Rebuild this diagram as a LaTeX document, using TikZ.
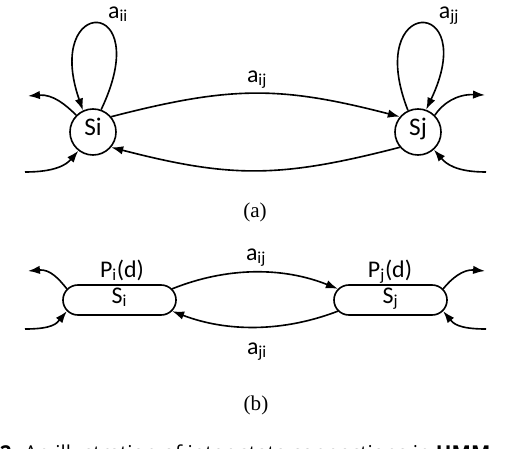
\documentclass[tikz,border=0pt]{standalone}
\usepackage{fontspec}
\setmainfont{Liberation Serif}
\newfontfamily\lblfont{Carlito}
\newfontfamily\capfont{Open Sans}
\usetikzlibrary{arrows.meta,positioning,shapes.misc}

\begin{document}
\begin{tikzpicture}[x=0.025cm, y=-0.025cm, >={Latex[length=8.5pt,width=6pt]}, line width=1.15pt]
      \tikzset{
	  state/.style={circle, draw, inner sep=0pt, minimum size=1.15cm, text height=0.65em, text depth=0.2em, font=\lblfont\fontsize{18}{20}\selectfont},
	  stbox/.style={rounded rectangle, draw, inner sep=0pt, minimum width=2.825cm, minimum height=0.75cm, text height=0.65em, text depth=0.2em, font=\lblfont\fontsize{17}{20}\selectfont},
	  lbl/.style={anchor=base, inner sep=0pt, font=\lblfont\fontsize{17}{20}\selectfont},
	  sublbl/.style={anchor=base, inner sep=0pt, font=\fontsize{15}{17}\selectfont},
      }
      \useasboundingbox (0,0) rectangle (512,448);

      % (a) circle states
      \node (si) at (93,132) [state] {Si};
      \node (sj) at (418,132) [state] {Sj};
      \node (aii) at (118,18) [lbl] {a\textsubscript{ii}};
      \node (ajj) at (449,18) [lbl] {a\textsubscript{jj}};
      \node (aij) at (257,82) [lbl] {a\textsubscript{ij}};
      \coordinate (sio) at (28,96);
      \coordinate (sii) at (25,172);
      \coordinate (sjo) at (485,95);
      \coordinate (sji) at (486,172);

      \draw [->] (si.70) .. controls +(55,-115) and +(-40,-115) .. (si.115);
      \draw [->] (sj.115) .. controls +(-45,-115) and +(55,-115) .. (sj.70);
      \draw [->] (si.40) .. controls +(120,-31) and +(-120,-31) .. (sj.140);
      \draw [->] (sj.220) .. controls +(-120,31) and +(120,31) .. (si.-40);
      \draw [->] (si.135) .. controls +(-10,-10) and +(25,-2) .. (sio);
      \draw [->] (sii) .. controls +(30,0) and +(-12,14) .. (si.232);
      \draw [->] (sj.45) .. controls +(8,-12) and +(-28,-1) .. (sjo);
      \draw [->] (sji) .. controls +(-30,0) and +(12,14) .. (sj.-48);
      \node (capa) at (255,217) [sublbl] {(a)};

      % (b) duration states
      \node (bi) at (119.5,300) [stbox] {S\textsubscript{i}};
      \node (bj) at (390.5,300) [stbox] {S\textsubscript{j}};
      \node (pi) at (122,277) [lbl] {P\textsubscript{i}(d)};
      \node (pj) at (390,277) [lbl] {P\textsubscript{j}(d)};
      \node (bij) at (256,260) [lbl] {a\textsubscript{ij}};
      \node (bji) at (257,354) [lbl] {a\textsubscript{ji}};
      \coordinate (bio) at (28,271);
      \coordinate (bii) at (25,329);
      \coordinate (bjo) at (485,271);
      \coordinate (bjin) at (486,329);

      \draw [->] (bi.12) .. controls +(55,-22) and +(-55,-22) .. (bj.168);
      \draw [->] (bj.192) .. controls +(-55,21) and +(55,21) .. (bi.-12);
      \draw [->] (bi.168) .. controls +(-8,-10) and +(22,-2) .. (bio);
      \draw [->] (bii) .. controls +(28,0) and +(-10,12) .. (bi.192);
      \draw [->] (bj.12) .. controls +(8,-10) and +(-22,-2) .. (bjo);
      \draw [->] (bjin) .. controls +(-28,0) and +(10,12) .. (bj.-12);
      \node (capb) at (256,410) [sublbl] {(b)};

      \node (fig) at (-1,460) [anchor=base west, inner sep=0pt, font=\capfont\fontsize{14.6}{17}\selectfont] {\textbf{2.} An illustration of inter-state connections in \textbf{HMM}};
\end{tikzpicture}
\end{document}
